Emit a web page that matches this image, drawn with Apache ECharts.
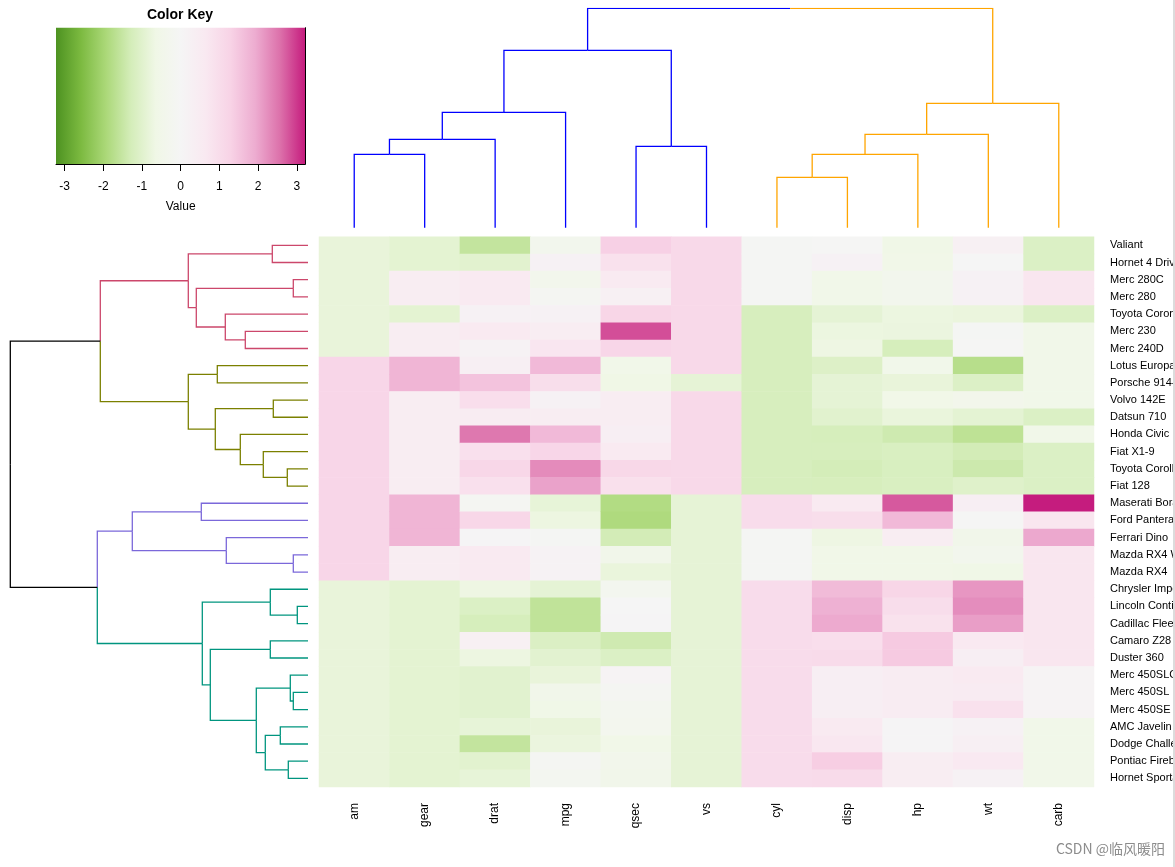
<!DOCTYPE html>
<html>
<head>
<meta charset="utf-8">
<script src="https://cdn.jsdelivr.net/npm/echarts@6/dist/echarts.min.js"></script>
<style>
html,body{margin:0;padding:0;background:#fff;}
#chart{width:1175px;height:867px;}
</style>
</head>
<body>
<div id="chart"></div>
<script>
// ---------- data (column-scaled mtcars values, rows in dendrogram order) ----------
const rowNames = ['Valiant','Hornet 4 Drive','Merc 280C','Merc 280','Toyota Corona','Merc 230','Merc 240D',
  'Lotus Europa','Porsche 914-2','Volvo 142E','Datsun 710','Honda Civic','Fiat X1-9','Toyota Corolla','Fiat 128',
  'Maserati Bora','Ford Pantera L','Ferrari Dino','Mazda RX4 Wag','Mazda RX4',
  'Chrysler Imperial','Lincoln Continental','Cadillac Fleetwood','Camaro Z28','Duster 360',
  'Merc 450SLC','Merc 450SL','Merc 450SE','AMC Javelin','Dodge Challenger','Pontiac Firebird','Hornet Sportabout'];
const colNames = ['am','gear','drat','mpg','qsec','vs','cyl','disp','hp','wt','carb'];

const am   = [-0.81,-0.81,-0.81,-0.81,-0.81,-0.81,-0.81, 1.19,1.19,1.19,1.19,1.19,1.19,1.19,1.19, 1.19,1.19,1.19,1.19,1.19, -0.81,-0.81,-0.81,-0.81,-0.81,-0.81,-0.81,-0.81,-0.81,-0.81,-0.81,-0.81];
const gear = [-0.93,-0.93,0.42,0.42,-0.93,0.42,0.42, 1.78,1.78,0.42,0.42,0.42,0.42,0.42,0.42, 1.78,1.78,1.78,0.42,0.42, -0.93,-0.93,-0.93,-0.93,-0.93,-0.93,-0.93,-0.93,-0.93,-0.93,-0.93,-0.93];
const drat = [-1.56,-0.97,0.60,0.60,0.19,0.60,0.18, 0.32,1.56,0.96,0.47,2.49,0.90,1.17,0.90, -0.11,1.17,0.04,0.57,0.57, -0.69,-1.12,-1.25,0.25,-0.72,-0.98,-0.98,-0.98,-0.84,-1.56,-0.97,-0.84];
const mpg  = [-0.35,0.22,-0.38,-0.15,0.23,0.45,0.72, 1.71,0.98,0.22,0.45,1.71,1.20,2.29,2.04, -0.84,-0.71,-0.07,0.15,0.15, -0.89,-1.61,-1.61,-1.13,-0.96,-0.81,-0.46,-0.61,-0.81,-0.76,-0.15,-0.23];
const qsec = [1.33,0.89,0.59,0.25,1.21,2.83,1.20, -0.53,-0.64,0.42,0.43,0.38,0.59,1.15,0.91, -1.82,-1.87,-1.31,-0.46,-0.78, -0.24,-0.02,0.07,-1.37,-1.12,0.09,-0.14,-0.25,-0.31,-0.55,-0.45,-0.46];
const vs   = [1.12,1.12,1.12,1.12,1.12,1.12,1.12, 1.12,-0.87,1.12,1.12,1.12,1.12,1.12,1.12, -0.87,-0.87,-0.87,-0.87,-0.87, -0.87,-0.87,-0.87,-0.87,-0.87,-0.87,-0.87,-0.87,-0.87,-0.87,-0.87,-0.87];
const cyl  = [-0.10,-0.10,-0.10,-0.10,-1.22,-1.22,-1.22, -1.22,-1.22,-1.22,-1.22,-1.22,-1.22,-1.22,-1.22, 1.01,1.01,-0.10,-0.10,-0.10, 1.01,1.01,1.01,1.01,1.01,1.01,1.01,1.01,1.01,1.01,1.01,1.01];
const disp = [-0.05,0.22,-0.51,-0.51,-0.89,-0.73,-0.68, -1.09,-0.89,-0.89,-0.99,-1.25,-1.22,-1.29,-1.23, 0.57,0.97,-0.69,-0.57,-0.57, 1.69,1.85,1.95,0.96,1.04,0.36,0.36,0.36,0.59,0.70,1.37,1.04];
const hp   = [-0.61,-0.54,-0.35,-0.35,-0.73,-0.75,-1.24, -0.49,-0.81,-0.55,-0.78,-1.38,-1.18,-1.19,-1.18, 2.75,1.71,0.41,-0.54,-0.54, 1.21,1.00,0.85,1.43,1.43,0.49,0.49,0.49,0.05,0.05,0.41,0.41];
const wt   = [0.25,0.00,0.23,0.23,-0.77,-0.07,-0.03, -1.74,-1.10,-0.45,-0.92,-1.64,-1.31,-1.41,-1.04, 0.36,-0.05,-0.46,-0.35,-0.61, 2.17,2.26,2.08,0.64,0.36,0.58,0.52,0.87,0.22,0.31,0.64,0.23];
const carb = [-1.12,-1.12,0.74,0.74,-1.12,-0.50,-0.50, -0.50,-0.50,-0.50,-1.12,-0.50,-1.12,-1.12,-1.12, 3.21,0.74,1.97,0.74,0.74, 0.74,0.74,0.74,0.74,0.74,0.12,0.12,0.12,-0.50,-0.50,-0.50,-0.50];
const colValues = [am, gear, drat, mpg, qsec, vs, cyl, disp, hp, wt, carb];

// hclust-style merges: [childA, childB, height]; negative = leaf (1-based display position), positive = earlier merge row
const colMerges = [[-7,-8,50.4],[-1,-2,73.4],[1,-9,73.4],[-5,-6,81.4],[2,-3,88.4],[3,-10,93.4],[5,-4,115.4],[6,-11,124.4],[7,4,177.4],[9,8,219.4]];
const colLeafCluster = [0,0,0,0,0,0,1,1,1,1,1];
const colClusterColors = ['#0000FF','#FFA500'];

const rowMerges = [[-22,-23,10.7],[-3,-4,14.7],[-19,-20,14.7],[-27,-28,14.7],[-26,4,17.7],[-31,-32,19.7],[-14,-15,20.7],
  [-29,-30,27.7],[-10,-11,34.7],[-1,-2,35.7],[-21,1,37.7],[-24,-25,37.7],[8,6,42.7],[-13,7,44.7],[5,13,51.7],
  [-6,-7,62.7],[-12,14,67.7],[-18,3,81.7],[-5,16,82.7],[-8,-9,90.7],[9,17,92.7],[12,15,97.7],[11,22,105.7],
  [-16,-17,106.7],[2,19,111.7],[10,25,119.7],[20,21,119.7],[24,18,175.7],[26,27,207.7],[28,23,210.7],[29,30,297.7]];
const rowLeafCluster = [0,0,0,0,0,0,0, 1,1,1,1,1,1,1,1, 2,2,2,2,2, 3,3,3,3,3,3,3,3,3,3,3,3];
const rowClusterColors = ['#CC476B','#7B8000','#7B68DA','#00957F'];

const keyTicks = [-3,-2,-1,0,1,2,3];
const keyColors = ['#4D9221','#7CBA40','#ABD878','#D4EDB9','#F0F7E6','#F5F5F5','#F9E9F1','#F8D3E6','#EDACD0','#DC70AA','#C51B7D'];
const keyMin = -3.22, keyMax = 3.22;

// ---------- build ----------
const heatData = [];
colValues.forEach((arr, ci) => arr.forEach((v, ri) => heatData.push([ci, ri, v])));

function dendroSegments(merges, leafCluster, clusterColors, aboveColor, horizontal) {
  const nodes = [];
  const info = c => c < 0 ? {pos: -c, h: 0, cl: leafCluster[-c - 1]} : nodes[c - 1];
  const segs = [];
  merges.forEach(m => {
    const a = info(m[0]), b = info(m[1]), h = m[2];
    const pos = (a.pos + b.pos) / 2;
    const cl = (a.cl === b.cl) ? a.cl : -1;
    [a, b].forEach(ch => {
      const color = ch.cl >= 0 ? clusterColors[ch.cl] : aboveColor;
      const pts = horizontal
        ? [[ch.h, ch.pos], [h, ch.pos], [h, pos]]
        : [[ch.pos, ch.h], [ch.pos, h], [pos, h]];
      segs.push({coords: pts, lineStyle: {color: color}});
    });
    nodes.push({pos: pos, h: h, cl: cl});
  });
  return segs;
}
const topSegs = dendroSegments(colMerges, colLeafCluster, colClusterColors, '#000000', false);
const leftSegs = dendroSegments(rowMerges, rowLeafCluster, rowClusterColors, '#000000', true);

const chart = echarts.init(document.getElementById('chart'), null, {renderer: 'canvas'});
const FONT = '"Liberation Sans", Arial, sans-serif';
const hmTop = 236.7, hmH = 550.3;

const option = {
  animation: false,
  backgroundColor: '#ffffff',
  textStyle: {fontFamily: FONT},
  grid: [
    {left: 319, top: hmTop, width: 775, height: hmH, outerBoundsMode: 'none', containLabel: false},
    {left: 319, top: 8.3, width: 775, height: 219.4, outerBoundsMode: 'none', containLabel: false},
    {left: 10.3, top: hmTop, width: 297.7, height: hmH, outerBoundsMode: 'none', containLabel: false},
    {left: 56, top: 27.7, width: 249.3, height: 136.3, outerBoundsMode: 'none', containLabel: false}
  ],
  xAxis: [
    {gridIndex: 0, type: 'category', data: colNames, axisLine: {show: false}, axisTick: {show: false},
     splitLine: {show: false}, axisLabel: {rotate: 90, fontSize: 12, color: '#000', margin: 16, fontFamily: FONT}},
    {gridIndex: 1, type: 'value', min: 0.5, max: 11.5, show: false},
    {gridIndex: 2, type: 'value', min: 0, max: 297.7, inverse: true, show: false},
    {gridIndex: 3, type: 'value', min: keyMin, max: keyMax, splitLine: {show: false},
     axisLine: {show: true, onZero: false, lineStyle: {color: '#000', width: 1}},
     axisTick: {show: true, length: 7, customValues: keyTicks, lineStyle: {color: '#000'}},
     axisLabel: {customValues: keyTicks, fontSize: 12, color: '#000', margin: 17, fontFamily: FONT},
     name: 'Value', nameLocation: 'middle', nameGap: 37, nameTextStyle: {fontSize: 12, color: '#000', fontFamily: FONT}}
  ],
  yAxis: [
    {gridIndex: 0, type: 'category', data: rowNames, inverse: true, position: 'right',
     axisLine: {show: false}, axisTick: {show: false}, splitLine: {show: false},
     axisLabel: {fontSize: 11, color: '#000', margin: 16, fontFamily: FONT, padding: [5, 0, 0, 0]}},
    {gridIndex: 1, type: 'value', min: 0, max: 219.4, show: false},
    {gridIndex: 2, type: 'value', min: 0.5, max: 32.5, inverse: true, show: false},
    {gridIndex: 3, type: 'value', min: 0, max: 1, position: 'right', splitLine: {show: false},
     axisLine: {show: true, onZero: false, lineStyle: {color: '#000', width: 1}}, axisTick: {show: false}, axisLabel: {show: false}}
  ],
  visualMap: {type: 'continuous', min: keyMin, max: keyMax, show: false, seriesIndex: 0, inRange: {color: keyColors}},
  series: [
    {type: 'heatmap', xAxisIndex: 0, yAxisIndex: 0, data: heatData, itemStyle: {borderWidth: 0}, emphasis: {disabled: true}, silent: true},
    {type: 'lines', coordinateSystem: 'cartesian2d', xAxisIndex: 1, yAxisIndex: 1, polyline: true, silent: true,
     lineStyle: {width: 1.3, opacity: 1}, data: topSegs},
    {type: 'lines', coordinateSystem: 'cartesian2d', xAxisIndex: 2, yAxisIndex: 2, polyline: true, silent: true,
     lineStyle: {width: 1.3, opacity: 1}, data: leftSegs}
  ],
  graphic: [
    {type: 'rect', left: 56, top: 27.7, z: -1, shape: {width: 249.3, height: 136.3},
     style: {fill: new echarts.graphic.LinearGradient(0, 0, 1, 0,
       keyColors.map((c, i) => ({offset: i / (keyColors.length - 1), color: c})))}},
    {type: 'text', x: 180, y: 15, style: {text: 'Color Key', fontSize: 14, fontWeight: 'bold', fill: '#000',
       fontFamily: FONT, textAlign: 'center', textVerticalAlign: 'middle'}},
    {type: 'text', x: 1165, y: 849, style: {text: 'CSDN @临风暖阳', fontSize: 14, fill: '#8c8c8c',
       fontFamily: '"Noto Sans CJK SC", sans-serif', textAlign: 'right', textVerticalAlign: 'middle'}},
    {type: 'rect', left: 1173, top: 0, z: 10, shape: {width: 2, height: 867}, style: {fill: '#dcdcdc'}}
  ]
};
chart.setOption(option);
</script>
</body>
</html>
